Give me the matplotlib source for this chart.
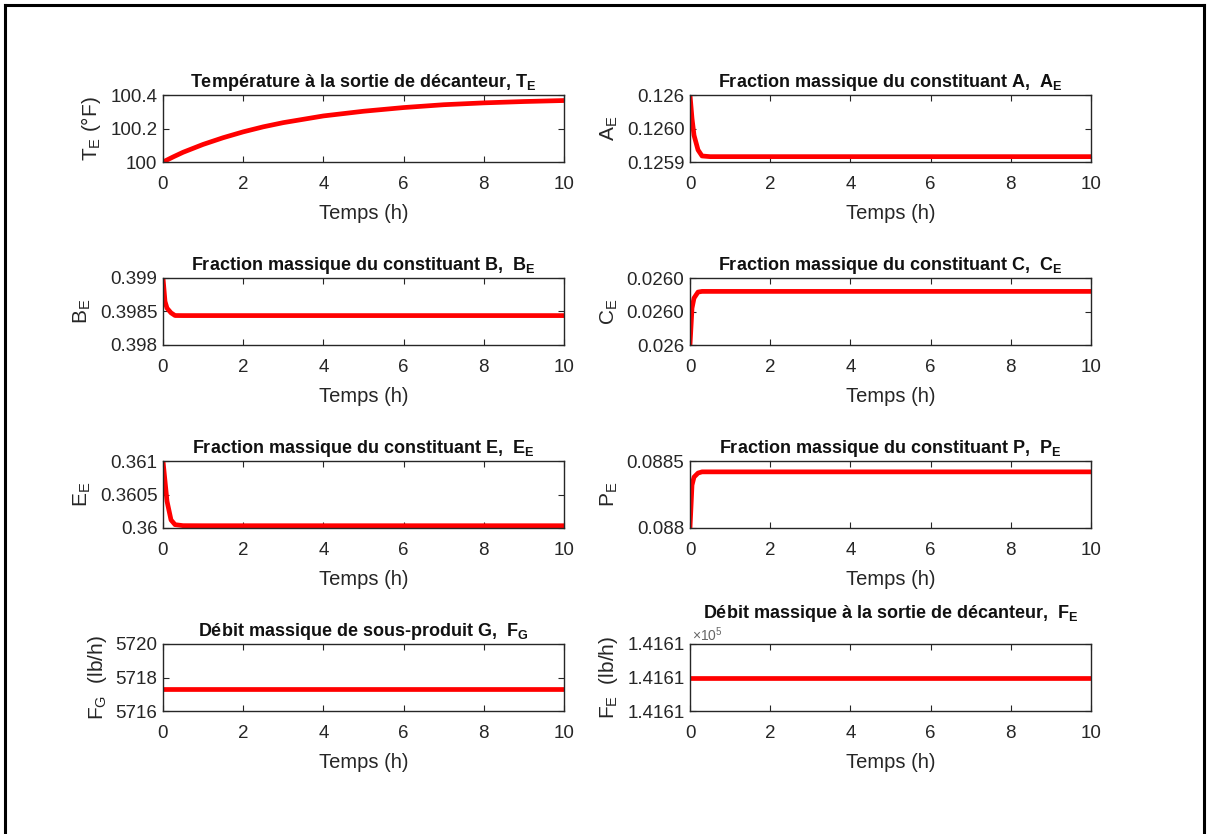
import matplotlib
matplotlib.use("Agg")
import matplotlib.pyplot as plt
from matplotlib import font_manager
from matplotlib.lines import Line2D

# narrow sans face if one is installed (MATLAB-like look)
names = {f.name for f in font_manager.fontManager.ttflist}
face = "Liberation Sans Narrow" if "Liberation Sans Narrow" in names else "Liberation Sans"
plt.rcParams["font.family"] = [face, "DejaVu Sans"]
plt.rcParams["mathtext.fontset"] = "custom"
plt.rcParams["mathtext.rm"] = face
plt.rcParams["mathtext.it"] = face
plt.rcParams["mathtext.bf"] = face + ":bold"

# time axes (h)
t_T = [0, 0.25, 0.5, 1, 1.5, 2, 2.5, 3, 4, 5, 6, 7, 8, 9, 10]
t_h = [0, 0.05, 0.1, 0.2, 0.3, 0.5, 1, 2, 4, 6, 8, 10]
t_flat = [0, 10]

T_E = [100.0, 100.03, 100.058, 100.105, 100.145, 100.18, 100.21, 100.235,
       100.275, 100.303, 100.325, 100.342, 100.353, 100.361, 100.367]
A_E = [0.12600, 0.125965, 0.125940, 0.125918, 0.125909, 0.125908,
       0.125908, 0.125908, 0.125908, 0.125908, 0.125908, 0.125908]
B_E = [0.39900, 0.39865, 0.39855, 0.39848, 0.39844, 0.398439,
       0.398439, 0.398439, 0.398439, 0.398439, 0.398439, 0.398439]
C_E = [0.026000, 0.026011, 0.026014, 0.0260158, 0.026016, 0.026016,
       0.026016, 0.026016, 0.026016, 0.026016, 0.026016, 0.026016]
E_E = [0.36100, 0.36070, 0.36040, 0.36012, 0.36005, 0.360035,
       0.360034, 0.360034, 0.360034, 0.360034, 0.360034, 0.360034]
P_E = [0.08800, 0.08832, 0.08838, 0.08841, 0.088419, 0.088419,
       0.088419, 0.088419, 0.088419, 0.088419, 0.088419, 0.088419]
F_G = [5717.3, 5717.3]
F_E = [141610.0, 141610.0]

x_ticks = [0, 2, 4, 6, 8, 10]

panels = [
    (t_T, T_E, "Température à la sortie de décanteur, $\\mathbf{T_E}$",
     "T$_\\mathrm{E}$ (°F)", (100, 100.4), [100, 100.2, 100.4], ["100", "100.2", "100.4"]),
    (t_h, A_E, "Fraction massique du constituant A,  $\\mathbf{A_E}$",
     "A$_\\mathrm{E}$", (0.12590, 0.12600), [0.12590, 0.12595, 0.12600], ["0.1259", "0.1260", "0.126"]),
    (t_h, B_E, "Fraction massique du constituant B,  $\\mathbf{B_E}$",
     "B$_\\mathrm{E}$", (0.398, 0.399), [0.398, 0.3985, 0.399], ["0.398", "0.3985", "0.399"]),
    (t_h, C_E, "Fraction massique du constituant C,  $\\mathbf{C_E}$",
     "C$_\\mathrm{E}$", (0.026, 0.02602), [0.026, 0.02601, 0.02602], ["0.026", "0.0260", "0.0260"]),
    (t_h, E_E, "Fraction massique du constituant E,  $\\mathbf{E_E}$",
     "E$_\\mathrm{E}$", (0.36, 0.361), [0.36, 0.3605, 0.361], ["0.36", "0.3605", "0.361"]),
    (t_h, P_E, "Fraction massique du constituant P,  $\\mathbf{P_E}$",
     "P$_\\mathrm{E}$", (0.088, 0.0885), [0.088, 0.0885], ["0.088", "0.0885"]),
    (t_flat, F_G, "Débit massique de sous-produit G,  $\\mathbf{F_G}$",
     "F$_\\mathrm{G}$  (lb/h)", (5716, 5720), [5716, 5718, 5720], ["5716", "5718", "5720"]),
    (t_flat, F_E, "Débit massique à la sortie de décanteur,  $\\mathbf{F_E}$",
     "F$_\\mathrm{E}$  (lb/h)", (141609.98, 141610.02), [141609.98, 141610.0, 141610.02],
     ["1.4161", "1.4161", "1.4161"]),
]

W, H = 1208, 834
fig = plt.figure(figsize=(W / 100, H / 100), dpi=100)

lefts = [163, 690]
tops = [95, 278, 461, 644]
ax_w, ax_h = 401, 67
grey = "#262626"

for i, (x, y, title, ylabel, ylim, yt, ytl) in enumerate(panels):
    row, col = divmod(i, 2)
    ax = fig.add_axes([lefts[col] / W, 1 - (tops[row] + ax_h) / H, ax_w / W, ax_h / H])
    ax.plot(x, y, color="red", lw=3.4)
    ax.set_xlim(0, 10)
    ax.set_ylim(*ylim)
    ax.set_xticks(x_ticks)
    ax.set_yticks(yt)
    ax.set_yticklabels(ytl)
    ax.tick_params(direction="in", top=True, right=True, length=4, width=0.8,
                   colors=grey, labelsize=13.5, pad=4)
    ax.tick_params(axis="x", pad=10)
    for s in ax.spines.values():
        s.set_color(grey)
        s.set_linewidth(1.0)
    # last panel: lift the title a little so the x10^5 factor stays clear of it
    ax.set_title(title, fontsize=13, fontweight="bold", color="#111111",
                 pad=19 if i == 7 else 6)
    ax.set_xlabel("Temps (h)", fontsize=14.5, color=grey, labelpad=8)
    ax.set_ylabel(ylabel, fontsize=15, color=grey, labelpad=5)
    if i == 7:
        ax.text(0.005, 1.005, "×10$^5$", transform=ax.transAxes, fontsize=10,
                color="#666666", ha="left", va="bottom")

# outer frame of the screenshot (bottom edge cut off)
for xs, ys in [([5, 5], [0, H - 5]), ([5, W - 4], [H - 5, H - 5]), ([W - 4, W - 4], [0, H - 5])]:
    fig.add_artist(Line2D([v / W for v in xs], [v / H for v in ys], color="black", lw=2.2))

fig.savefig("out.png", dpi=100)
